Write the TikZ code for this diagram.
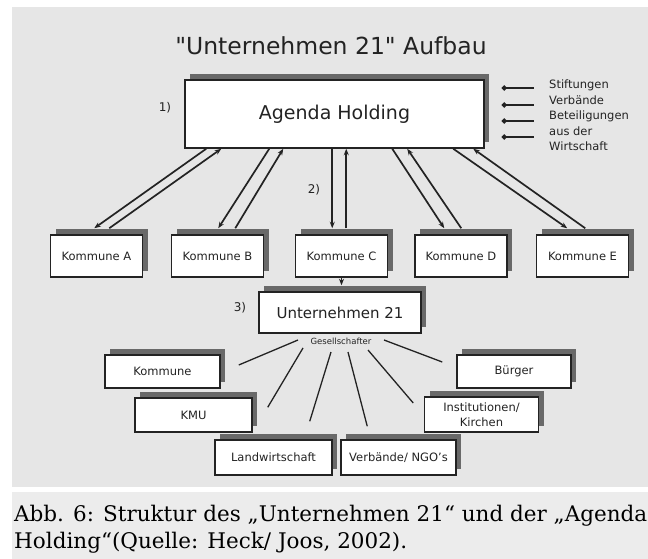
\documentclass[tikz,border=0pt]{standalone}
\usepackage{fontspec}
\setmainfont{DejaVu Sans}
\newfontfamily\capfont{DejaVu Serif}
\usetikzlibrary{arrows.meta,shadows,calc}
\definecolor{panel}{RGB}{230,230,230}
\definecolor{capbg}{RGB}{236,236,236}
\definecolor{shade}{RGB}{105,105,105}
\definecolor{ink}{RGB}{35,35,35}
\newcommand{\fs}[1]{\fontsize{#1}{#1}\selectfont}
\begin{document}
\begin{tikzpicture}[x=1pt,y=-1pt,
  box/.style={draw=ink, line width=1.5pt, fill=white, inner sep=0pt, text=ink,
    drop shadow={shadow xshift=5pt, shadow yshift=6pt, fill=shade, opacity=1}},
  kbox/.style={box, minimum width=92pt, minimum height=42pt, font=\fs{11.5}},
  lbox/.style={box, minimum height=34pt, font=\fs{11.5}, align=center},
  arr/.style={draw=ink, line width=1.7pt, -{Stealth[length=6.5pt,width=5pt]}},
  dotarr/.style={draw=ink, line width=1.4pt, -{Circle[length=5pt]}},
  ray/.style={draw=ink, line width=1.3pt},
  lab/.style={text=ink, inner sep=0pt}]
\useasboundingbox (0,0) rectangle (648,559);
\fill[white] (0,0) rectangle (648,559);
\fill[panel] (12,7) rectangle (648,487);
\fill[capbg] (12,492) rectangle (648,559);

% title
\node[lab, font=\fs{23.5}] (title) at (331,46) {\textquotedbl Unternehmen 21\textquotedbl{} Aufbau};

% Agenda Holding
\node[box, minimum width=299pt, minimum height=68pt, font=\fs{19}] (agenda) at (334.5,114) {Agenda Holding};
\node[lab, font=\fs{12}] (n1) at (165,108) {1)};

% inputs at right
\foreach \dy [count=\i] in {-26,-9,7,23}{
  \coordinate (in\i) at ($(agenda.east)+(49,\dy)$);
  \coordinate (tip\i) at ($(agenda.east)+(17,\dy)$);
  \draw[dotarr] (in\i) -- (tip\i);
}
\node[lab, anchor=west, align=left, font=\fontsize{11.5}{15.6}\selectfont] (inputs) at (549,115.5)
  {Stiftungen\\Verbände\\Beteiligungen\\aus der\\Wirtschaft};

% Kommunen
\node[kbox] (kA) at (96.5,256) {Kommune A};
\node[kbox] (kB) at (217.5,256) {Kommune B};
\node[kbox] (kC) at (341.5,256) {Kommune C};
\node[kbox] (kD) at (461,256) {Kommune D};
\node[kbox] (kE) at (582.5,256) {Kommune E};
\node[lab, font=\fs{12}] (n2) at (314,190) {2)};

% arrow pairs
\draw[arr] ($(agenda.south west)+(22,0)$) -- ($(kA.north west)+(44.5,-6)$);
\draw[arr] ($(kA.north west)+(59.5,-6)$) -- ($(agenda.south west)+(37,0)$);
\draw[arr] ($(agenda.south west)+(85,0)$) -- ($(kB.north west)+(47.5,-6)$);
\draw[arr] ($(kB.north west)+(64.5,-6)$) -- ($(agenda.south west)+(99,0)$);
\draw[arr] ($(agenda.south west)+(148,0)$) -- ($(kC.north west)+(37.5,-6)$);
\draw[arr] ($(kC.north west)+(51.5,-6)$) -- ($(agenda.south west)+(162,0)$);
\draw[arr] ($(agenda.south west)+(208,0)$) -- ($(kD.north west)+(30,-6)$);
\draw[arr] ($(kD.north west)+(47,-6)$) -- ($(agenda.south west)+(223,0)$);
\draw[arr] ($(agenda.south west)+(269,0)$) -- ($(kE.north west)+(31.5,-6)$);
\draw[arr] ($(kE.north west)+(49.5,-6)$) -- ($(agenda.south west)+(289,0)$);

% Unternehmen 21
\node[box, minimum width=162pt, minimum height=41pt, font=\fs{15}] (u21) at (340,312.5) {Unternehmen 21};
\node[lab, font=\fs{12}] (n3) at (240,308) {3)};
\draw[arr] (kC.south) -- ($(u21.north)+(1.5,-6)$);
\node[lab, font=\fs{8.5}] (ges) at (341,341) {Gesellschafter};

% lower boxes
\node[lbox, minimum width=115pt, minimum height=33pt] (lk) at (162.5,371.5) {Kommune};
\node[lbox, minimum width=117pt] (kmu) at (193.5,415) {KMU};
\node[lbox, minimum width=117pt, minimum height=35pt] (lw) at (273.5,457.5) {Landwirtschaft};
\node[lbox, minimum width=115pt, minimum height=35pt] (vb) at (398.5,457.5) {Verbände/ NGO's};
\node[lbox, minimum width=114pt, minimum height=35pt, font=\fontsize{11.5}{15}\selectfont] (inst) at (481.5,414.5) {Institutionen/\\Kirchen};
\node[lbox, minimum width=114pt, minimum height=33pt] (bu) at (514,371.5) {Bürger};

% rays
\draw[ray] ($(ges.center)+(-43,-1)$) -- ($(lk.east)+(18,-6.5)$);
\draw[ray] ($(ges.center)+(-38,7)$) -- ($(kmu.north east)+(15,10)$);
\draw[ray] ($(ges.center)+(-10,11)$) -- ($(lw.north east)+(-23,-18)$);
\draw[ray] ($(ges.center)+(7,11)$) -- ($(vb.north west)+(27,-13)$);
\draw[ray] ($(ges.center)+(27,9)$) -- ($(inst.west)+(-10.5,-11.5)$);
\draw[ray] ($(ges.center)+(43,-1)$) -- ($(bu.west)+(-14,-9.5)$);

% caption
\node[lab, anchor=base west, font=\capfont\fs{21.5}, text=black] (cap1) at (14,521) {Abb. 6: Struktur des „Unternehmen 21“ und der „Agenda};
\node[lab, anchor=base west, font=\capfont\fs{21.5}, text=black] (cap2) at (14,548) {Holding“(Quelle: Heck/ Joos, 2002).};
\end{tikzpicture}
\end{document}
